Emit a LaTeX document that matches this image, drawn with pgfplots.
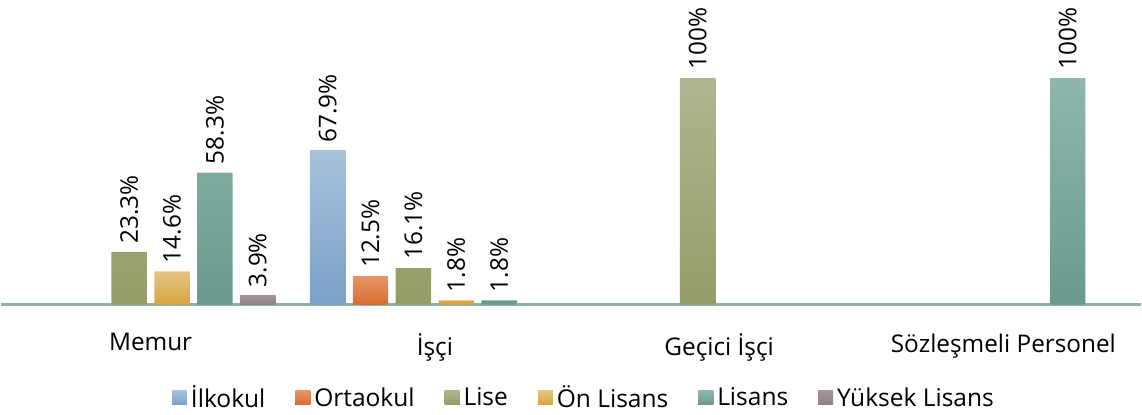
\documentclass[border=0pt]{standalone}
\usepackage{pgfplots}
\pgfplotsset{compat=1.18}
\usepackage{fontspec}
\setmainfont{Open Sans}

\definecolor{ilkT}{HTML}{A7C2DD}\definecolor{ilkB}{HTML}{7BA1C7}
\definecolor{ortT}{HTML}{E89467}\definecolor{ortB}{HTML}{D86D30}
\definecolor{lisT}{HTML}{B0B690}\definecolor{lisB}{HTML}{949D68}
\definecolor{onT}{HTML}{E4C482}\definecolor{onB}{HTML}{D6A540}
\definecolor{lsT}{HTML}{8FB7AD}\definecolor{lsB}{HTML}{699A8D}
\definecolor{ykT}{HTML}{A29597}\definecolor{ykB}{HTML}{8D8284}
\definecolor{axisline}{HTML}{8DB3A9}

\begin{document}
\begin{tikzpicture}
\begin{axis}[
  ybar=3.75pt,
  bar width=17.75pt,
  x=142.5pt, y=1.135pt,
  xmin=-0.5246, xmax=3.4825,
  ymin=0, ymax=133.9,
  axis x line=bottom,
  axis y line=none,
  x axis line style={draw=axisline, line width=1.5pt, -},
  xtick={0,1,2,3},
  xticklabels={Memur,İşçi,Geçici İşçi,Sözleşmeli Personel},
  major tick length=0pt,
  ytick=\empty,
  xticklabel style={font=\fontsize{12.2}{14}\selectfont, yshift=-11pt},
  /pgf/number format/assume math mode=true,
  point meta=y,
  nodes near coords={\pgfmathprintnumber{\pgfplotspointmeta}\%},
  nodes near coords style={rotate=90, anchor=west, font=\fontsize{12.2}{14}\selectfont, text=black, inner xsep=4pt},
  legend columns=-1,
  legend style={at={(0.5,0)}, anchor=north, xshift=7pt, yshift=-38.5pt, draw=none, inner sep=0pt,
    font=\fontsize{12.3}{14}\selectfont,
    nodes={inner xsep=2pt, inner ysep=2pt},
    /tikz/every even column/.append style={column sep=13pt}},
  legend image code/.code={\fill[#1] (0pt,-3.2pt) rectangle (7.5pt,3.8pt);},
]
\addplot[draw=none, top color=ilkT, bottom color=ilkB] coordinates {(1,67.9)};
\addplot[draw=none, top color=ortT, bottom color=ortB] coordinates {(1,12.5)};
\addplot[draw=none, top color=lisT, bottom color=lisB] coordinates {(0,23.3) (1,16.1) (2,100)};
\addplot[draw=none, top color=onT, bottom color=onB] coordinates {(0,14.6) (1,1.8)};
\addplot[draw=none, top color=lsT, bottom color=lsB] coordinates {(0,58.3) (1,1.8) (3,100)};
\addplot[draw=none, top color=ykT, bottom color=ykB] coordinates {(0,3.9)};
\legend{İlkokul,Ortaokul,Lise,Ön Lisans,Lisans,Yüksek Lisans}
\end{axis}
\path (current axis.north west) (current axis.south east);
\end{tikzpicture}
\end{document}
